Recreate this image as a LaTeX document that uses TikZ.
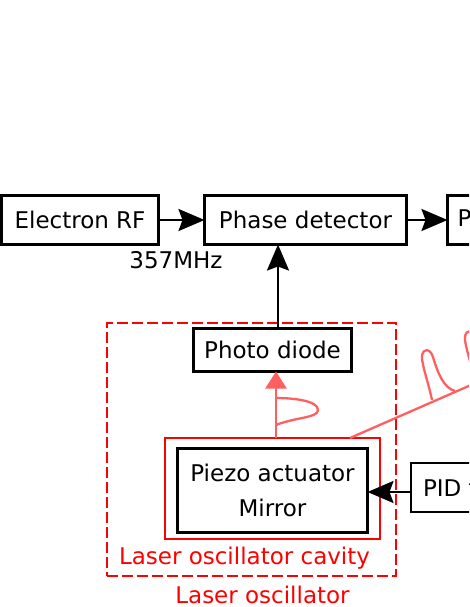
\documentclass[tikz,border=0pt]{standalone}
\usepackage{fontspec}
\setmainfont{DejaVu Sans}
\usetikzlibrary{arrows.meta,positioning}
\definecolor{beamred}{RGB}{255,95,95}
\newcommand{\blocktext}{\fontsize{23}{35}\selectfont}
\tikzset{%
  % boxes
  block/.style={draw, line width=2.3pt, inner sep=0pt, outer sep=0pt, minimum height=49pt, font=\blocktext},
  cutblock/.style={block, inner xsep=10pt},
  mirrorbox/.style={draw, line width=3.2pt, outer sep=0pt, minimum width=190pt, minimum height=84pt, align=center, font=\blocktext},
  cavitybox/.style={draw=red, line width=2.6pt, outer sep=0pt, minimum width=215pt, minimum height=101pt},
  oscbox/.style={draw=red, line width=2.3pt, dash pattern=on 11pt off 4pt, outer sep=0pt, minimum width=289pt, minimum height=253pt},
  txt/.style={font=\blocktext, inner sep=0pt, anchor=base},
  redlabel/.style={txt, text=red},
  % edge styles
  conn/.style={-{Stealth[length=26pt,width=22pt,inset=4pt]}, line width=2.3pt},
  beam/.style={draw=beamred, line width=2.3pt},
  beamtip/.style={beam, -{Triangle[length=17pt,width=21pt]}, beamred},
}
\newcommand{\bump}[1]{%
  % #1 = shift along the beam
  \draw[beam, shift={#1}] (432,400) .. controls (429,385) and (421,362) .. (422,356)
    .. controls (423,348) and (430,348) .. (433,357)
    .. controls (438,374) and (444,388) .. (455,391);
}

\begin{document}
\begin{tikzpicture}[x=1pt, y=-1pt]
  \useasboundingbox (0,0) rectangle (469,607);
  \clip (0,0) rectangle (469,607);

  \node[block, minimum width=157pt] (elecrf) at (80,220) {Electron RF};
  \node[block, minimum width=202pt, right=46pt of elecrf] (phasedet) {Phase detector};
  \node[cutblock, right=41pt of phasedet] (preamp) {Preamplifier};
  \node[txt] (freq) at (176,268) {357MHz};

  \node[oscbox] (laserosc) at (251.5,449.5) {};
  \node[cavitybox] (cavity) at (272.5,488.5) {};
  \node[mirrorbox] (piezo) at (272.5,490.5) {Piezo actuator\\Mirror};
  \node[block, minimum width=158pt, minimum height=43pt] (pd) at (272.5,350) {Photo diode};
  \node[block, inner xsep=12pt, anchor=west] (pid) at (411,487.5) {PID filter};

  \node[redlabel] (cavitylbl) at (244.5,564) {Laser oscillator cavity};
  \node[redlabel] (osclbl) at (262.5,603) {Laser oscillator};

  \draw[conn] (elecrf) -- (phasedet);
  \draw[conn] (phasedet) -- (preamp);
  \draw[conn] ([xshift=5.5pt]pd.north) -- ([xshift=5.5pt]pd.north |- phasedet.south);
  \draw[conn] ([yshift=-4.5pt]pid.west) -- ([yshift=-4.5pt]pid.west -| piezo.east);

  % laser light
  \coordinate (beamend) at (560,346);
  \draw[beamtip] ([xshift=3.5pt]cavity.north) -- ([xshift=3.5pt]cavity.north |- pd.south);
  \draw[beam] ([xshift=77.5pt]cavity.north) -- (beamend);
  \draw[beam] (276,398) .. controls (295,398) and (318,401) .. (318,410)
    .. controls (318,418) and (296,417) .. (276,425);
  \bump{(0,0)}
  \bump{(43,-19)}

\end{tikzpicture}
\end{document}
